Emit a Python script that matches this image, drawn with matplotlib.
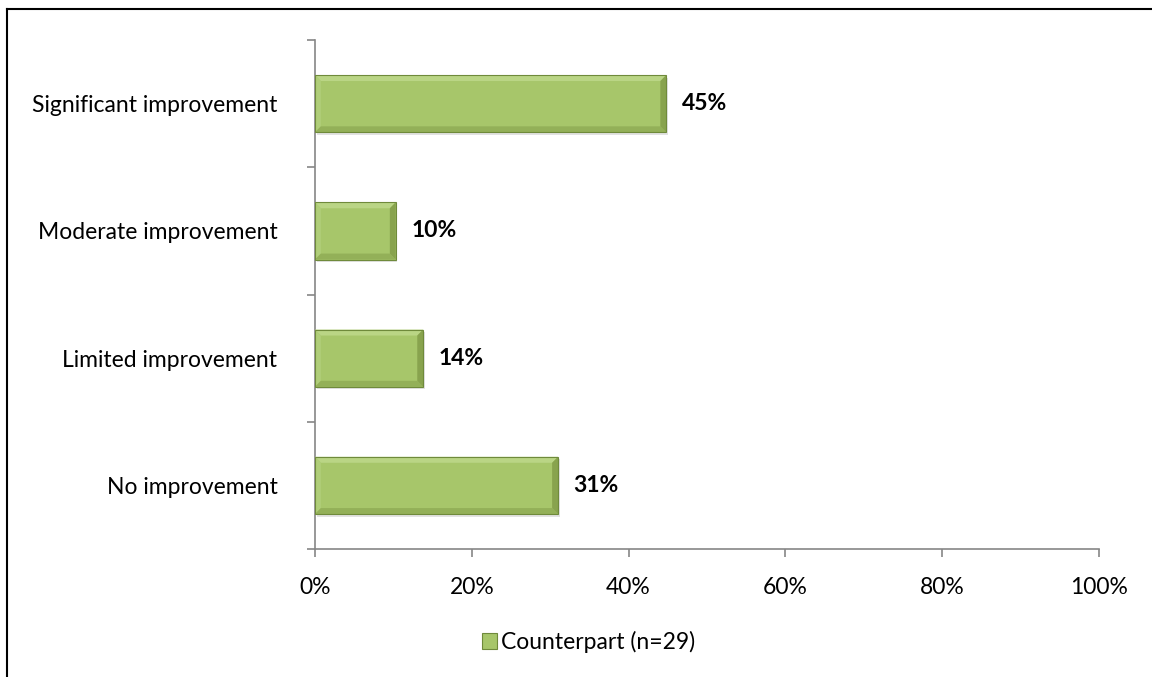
import matplotlib
matplotlib.use("Agg")
import matplotlib.pyplot as plt
from matplotlib.patches import Polygon, Rectangle
from matplotlib.lines import Line2D

categories = ["No improvement", "Limited improvement", "Moderate improvement", "Significant improvement"]
values = [31.0, 13.8, 10.3, 44.8]
xticks = [0, 20, 40, 60, 80, 100]
xtick_labels = ["0%", "20%", "40%", "60%", "80%", "100%"]
series_name = "Counterpart (n=29)"

plt.rcParams["font.family"] = ["Lato", "DejaVu Sans"]
FS = 16.5

fig = plt.figure(figsize=(11.52, 6.77), dpi=100)
ax = fig.add_axes([0.2734, 0.189, 0.6806, 0.7518])

face = "#A7C66A"
light = "#BAD585"
mid_light = "#B0CE79"
dark = "#93B058"
darker = "#88A34E"
edge = "#6F8A3B"

bar_h = 0.45
bars = ax.barh(range(len(categories)), values, height=bar_h, color=face,
               edgecolor="none", zorder=3)

# bevel and soft drop shadow around each bar
bx = 0.75   # bevel depth in x data units
by = 0.047  # bevel depth in y data units
for rect in bars:
    x0, y0 = rect.get_x(), rect.get_y()
    w, h = rect.get_width(), rect.get_height()
    x1, y1 = x0 + w, y0 + h
    ax.add_patch(Rectangle((x0 + 0.2, y0 - 0.02), w, h, color="#E2E2E2",
                           zorder=2, lw=0))
    ax.add_patch(Polygon([(x0, y1), (x1, y1), (x1 - bx, y1 - by), (x0 + bx, y1 - by)],
                         closed=True, color=light, lw=0, zorder=4))
    ax.add_patch(Polygon([(x0, y0), (x0, y1), (x0 + bx, y1 - by), (x0 + bx, y0 + by)],
                         closed=True, color=mid_light, lw=0, zorder=4))
    ax.add_patch(Polygon([(x0, y0), (x1, y0), (x1 - bx, y0 + by), (x0 + bx, y0 + by)],
                         closed=True, color=dark, lw=0, zorder=4))
    ax.add_patch(Polygon([(x1, y0), (x1, y1), (x1 - bx, y1 - by), (x1 - bx, y0 + by)],
                         closed=True, color=darker, lw=0, zorder=4))
    ax.add_patch(Rectangle((x0, y0), w, h, fill=False, edgecolor=edge, lw=0.8,
                           zorder=5))
    ax.text(x1 + 2.0, y0 + h / 2, f"{w:.0f}%", va="center", ha="left",
            fontsize=FS, fontweight="bold", color="black", zorder=6)

ax.set_xlim(0, 100)
ax.set_ylim(-0.5, len(categories) - 0.5)
ax.set_xticks(xticks)
ax.set_xticklabels(xtick_labels, fontsize=FS)
ax.set_yticks(range(len(categories)))
ax.set_yticklabels(categories, fontsize=FS)
ax.set_yticks([i - 0.5 for i in range(len(categories) + 1)], minor=True)

for side in ("top", "right"):
    ax.spines[side].set_visible(False)
for side in ("left", "bottom"):
    ax.spines[side].set_color("#868686")
    ax.spines[side].set_linewidth(1.2)

ax.tick_params(axis="y", which="major", length=0, pad=27)
ax.tick_params(axis="y", which="minor", length=6, direction="out", color="#868686", width=1.2)
ax.tick_params(axis="x", which="major", length=6, direction="out", color="#868686",
               width=1.2, pad=14)

# legend
handle = Rectangle((0, 0), 1, 1, facecolor=face, edgecolor=edge, lw=0.8)
fig.legend([handle], [series_name], loc="center", bbox_to_anchor=(0.511, 0.0517),
           frameon=False, fontsize=FS, handlelength=0.65, handleheight=0.65,
           handletextpad=0.2)

# outer frame lines
fig.add_artist(Line2D([0.0057, 1.0], [0.9865, 0.9865], transform=fig.transFigure,
                      color="black", lw=1.5))
fig.add_artist(Line2D([0.0057, 0.0057], [0.0, 0.9865], transform=fig.transFigure,
                      color="black", lw=1.5))

fig.savefig("out.png", dpi=100)
